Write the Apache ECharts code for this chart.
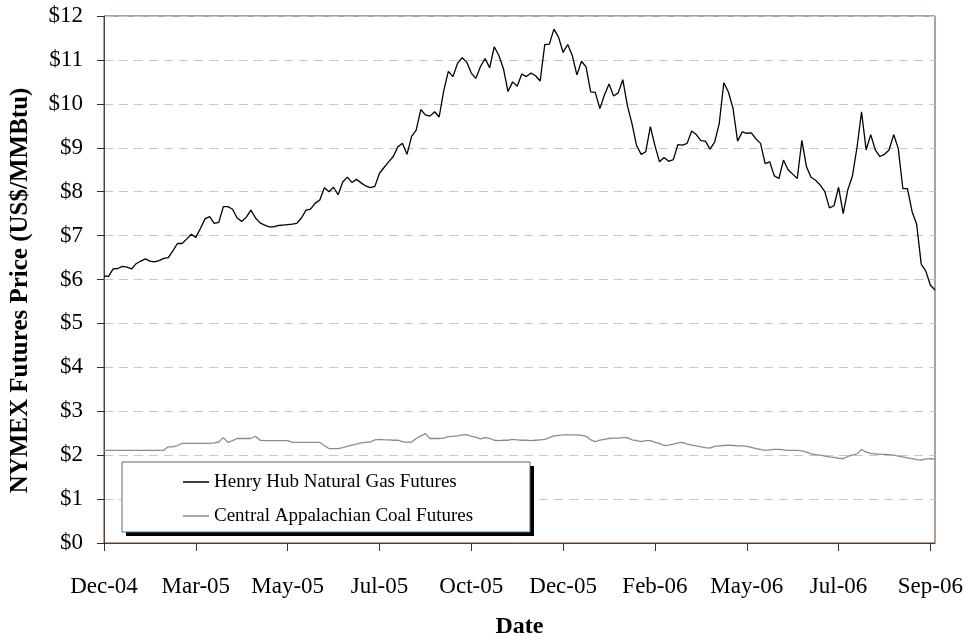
<!doctype html>
<html lang="en">
<head>
    <meta charset="UTF-8">
    <title>NYMEX futures</title>
    <style>
        html, body {margin: 0; padding: 0; background: #fff;}
        #chart {width: 966px; height: 635px;}
    </style>
</head>
<body>
<div id="chart"></div>
<script src="https://cdn.jsdelivr.net/npm/echarts@6/dist/echarts.min.js"></script>
<script>
    // tick labels, one every 20 trading-day samples
    var tickLabels = ['Dec-04', 'Mar-05', 'May-05', 'Jul-05', 'Oct-05', 'Dec-05', 'Feb-06', 'May-06', 'Jul-06', 'Sep-06'];
    var tickStep = 20;

    // Henry Hub natural gas futures, US$/MMBtu
    var gasPrices = [
        6.08, 6.07, 6.24, 6.25, 6.30, 6.28, 6.24, 6.36, 6.42, 6.47,
        6.42, 6.40, 6.43, 6.48, 6.50, 6.65, 6.82, 6.82, 6.92, 7.03,
        6.96, 7.16, 7.38, 7.43, 7.28, 7.30, 7.66, 7.66, 7.60, 7.40,
        7.32, 7.42, 7.58, 7.40, 7.29, 7.24, 7.20, 7.20, 7.23, 7.24,
        7.25, 7.26, 7.28, 7.40, 7.58, 7.60, 7.74, 7.81, 8.09, 8.00,
        8.10, 7.93, 8.22, 8.33, 8.21, 8.28, 8.20, 8.13, 8.09, 8.12,
        8.42, 8.55, 8.68, 8.80, 9.02, 9.10, 8.85, 9.26, 9.40, 9.87,
        9.75, 9.72, 9.82, 9.70, 10.30, 10.74, 10.62, 10.92, 11.05, 10.95,
        10.70, 10.58, 10.85, 11.03, 10.82, 11.30, 11.10, 10.80, 10.28, 10.50,
        10.40, 10.68, 10.62, 10.70, 10.64, 10.52, 11.35, 11.36, 11.70, 11.52,
        11.17, 11.35, 11.10, 10.66, 10.97, 10.84, 10.27, 10.26, 9.89, 10.20,
        10.45, 10.18, 10.25, 10.55, 9.96, 9.55, 9.05, 8.85, 8.91, 9.48,
        9.05, 8.68, 8.78, 8.69, 8.73, 9.07, 9.06, 9.10, 9.38, 9.30,
        9.16, 9.15, 8.97, 9.13, 9.55, 10.48, 10.27, 9.90, 9.15, 9.36,
        9.33, 9.34, 9.20, 9.10, 8.64, 8.68, 8.36, 8.30, 8.72, 8.50,
        8.40, 8.30, 9.17, 8.57, 8.33, 8.26, 8.15, 8.00, 7.63, 7.68,
        8.10, 7.50, 8.04, 8.35, 9.00, 9.82, 8.95, 9.30, 8.95, 8.80,
        8.85, 8.95, 9.30, 8.98, 8.07, 8.07, 7.55, 7.26, 6.35, 6.19,
        5.87, 5.76
    ];

    // Central Appalachian coal futures, US$/MMBtu
    var coalPrices = [
        2.11, 2.11, 2.11, 2.11, 2.11, 2.11, 2.11, 2.11, 2.11, 2.11,
        2.11, 2.11, 2.11, 2.11, 2.19, 2.19, 2.22, 2.27, 2.27, 2.27,
        2.27, 2.27, 2.27, 2.27, 2.28, 2.30, 2.40, 2.29, 2.33, 2.38,
        2.38, 2.38, 2.38, 2.43, 2.34, 2.33, 2.33, 2.33, 2.33, 2.33,
        2.33, 2.29, 2.29, 2.29, 2.29, 2.29, 2.29, 2.29, 2.22, 2.15,
        2.15, 2.15, 2.17, 2.20, 2.23, 2.25, 2.28, 2.29, 2.30, 2.35,
        2.36, 2.35, 2.35, 2.34, 2.34, 2.31, 2.29, 2.30, 2.38, 2.44,
        2.49, 2.38, 2.38, 2.38, 2.39, 2.42, 2.43, 2.44, 2.46, 2.47,
        2.43, 2.41, 2.37, 2.40, 2.38, 2.34, 2.33, 2.34, 2.34, 2.36,
        2.35, 2.34, 2.34, 2.33, 2.34, 2.35, 2.36, 2.40, 2.44, 2.45,
        2.46, 2.46, 2.46, 2.46, 2.45, 2.43, 2.35, 2.31, 2.34, 2.36,
        2.38, 2.39, 2.39, 2.40, 2.40, 2.35, 2.33, 2.31, 2.33, 2.33,
        2.29, 2.27, 2.22, 2.23, 2.25, 2.28, 2.29, 2.25, 2.23, 2.21,
        2.19, 2.17, 2.16, 2.20, 2.21, 2.22, 2.23, 2.22, 2.21, 2.21,
        2.20, 2.18, 2.15, 2.13, 2.11, 2.12, 2.13, 2.13, 2.12, 2.11,
        2.11, 2.11, 2.10, 2.07, 2.03, 2.01, 2.00, 1.98, 1.96, 1.95,
        1.93, 1.92, 1.97, 2.00, 2.03, 2.13, 2.07, 2.04, 2.03, 2.02,
        2.02, 2.01, 2.00, 1.98, 1.96, 1.94, 1.92, 1.90, 1.89, 1.91,
        1.92, 1.91
    ];

    var categories = gasPrices.map(function (v, i) { return 'd' + i; });
    var font = 'Liberation Serif';

    var chart = echarts.init(document.getElementById('chart'));
    chart.setOption({
        animation: false,
        backgroundColor: '#fff',
        grid: {
            left: 104, right: 31, top: 16, bottom: 92,
            outerBoundsMode: 'none',
            show: true, borderColor: '#6e4020', borderWidth: 1
        },
        legend: {
            orient: 'vertical',
            left: 178, top: 467,
            icon: 'rect',
            itemGap: 14, itemWidth: 26, itemHeight: 1.5,
            z: 20,
            textStyle: {fontFamily: font, fontSize: 19, lineHeight: 20, color: '#000'},
            data: ['Henry Hub Natural Gas Futures', 'Central Appalachian Coal Futures']
        },
        graphic: [
            {type: 'rect', z: 10, shape: {x: 126, y: 466, width: 408, height: 70}, style: {fill: '#000'}},
            {type: 'rect', z: 11, shape: {x: 122, y: 462, width: 408, height: 70}, style: {fill: '#fff', stroke: '#666', lineWidth: 1}}
        ],
        xAxis: {
            type: 'category',
            data: categories,
            boundaryGap: false,
            name: 'Date',
            nameLocation: 'middle',
            nameGap: 72,
            nameTextStyle: {fontFamily: font, fontSize: 24, fontWeight: 'bold', color: '#000'},
            axisLine: {lineStyle: {color: '#5a3d28', width: 1}},
            axisTick: {interval: tickStep - 1, length: 8, lineStyle: {color: '#333'}},
            axisLabel: {
                interval: tickStep - 1,
                margin: 32,
                fontFamily: font, fontSize: 23, color: '#000',
                formatter: function (v, idx) { return tickLabels[Math.round(idx / tickStep)]; }
            },
            splitLine: {show: false}
        },
        yAxis: {
            type: 'value',
            min: 0, max: 12, interval: 1,
            name: 'NYMEX Futures Price (US$/MMBtu)',
            nameLocation: 'middle',
            nameGap: 71,
            nameTextStyle: {fontFamily: font, fontSize: 25, fontWeight: 'bold', color: '#000', padding: [0, 22, 0, 0]},
            axisLine: {show: true, lineStyle: {color: '#5a3d28', width: 1}},
            axisTick: {show: true, length: 7, lineStyle: {color: '#333'}},
            axisLabel: {
                margin: 21,
                fontFamily: font, fontSize: 23, color: '#000',
                formatter: function (v) { return '$' + v; }
            },
            splitLine: {lineStyle: {color: '#c8c8c8', type: [9, 6], width: 1}}
        },
        series: [
            {
                name: 'Henry Hub Natural Gas Futures',
                type: 'line',
                data: gasPrices,
                symbol: 'none',
                lineStyle: {color: '#000', width: 1.3},
                itemStyle: {color: '#000'},
                z: 3
            },
            {
                name: 'Central Appalachian Coal Futures',
                type: 'line',
                data: coalPrices,
                symbol: 'none',
                lineStyle: {color: '#8c8c8c', width: 1.3},
                itemStyle: {color: '#8c8c8c'},
                z: 2
            }
        ]
    });
</script>
</body>
</html>
